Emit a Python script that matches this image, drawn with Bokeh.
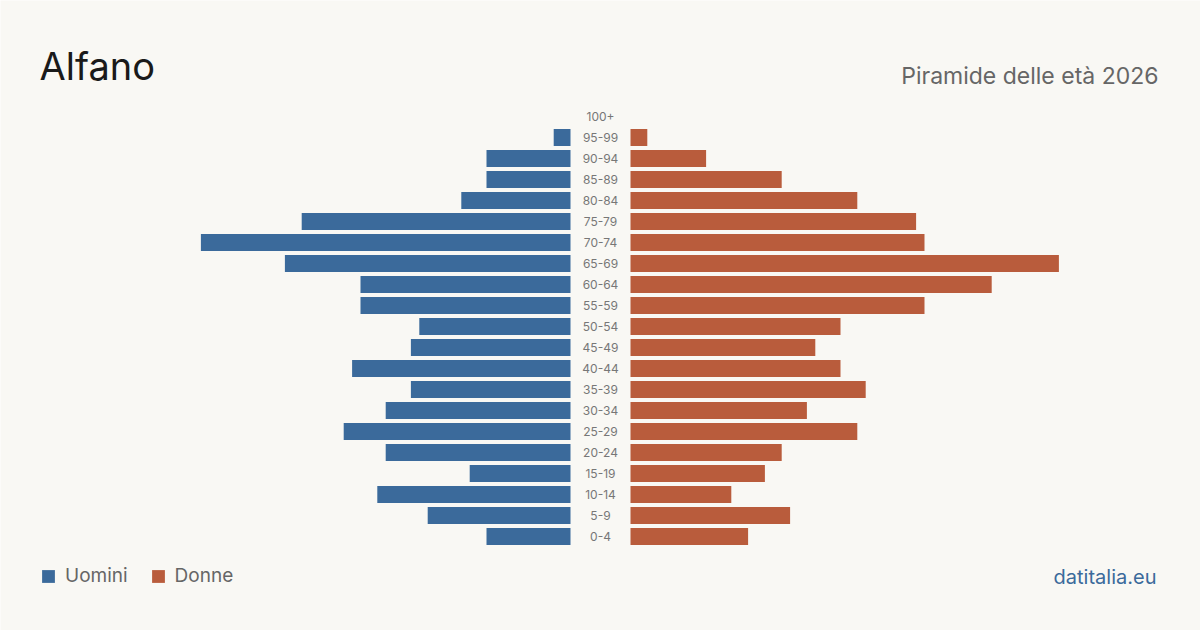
from bokeh.plotting import figure
from bokeh.models import Range1d, Label, Legend, LegendItem, ColumnDataSource
from bokeh.core.properties import value
from bokeh.embed import file_html
from bokeh.resources import INLINE

ages = ["0-4", "5-9", "10-14", "15-19", "20-24", "25-29", "30-34", "35-39", "40-44",
        "45-49", "50-54", "55-59", "60-64", "65-69", "70-74", "75-79", "80-84",
        "85-89", "90-94", "95-99", "100+"]
uomini = [10, 17, 23, 12, 22, 27, 22, 19, 26, 19, 18, 25, 25, 34, 44, 32, 13, 10, 10, 2, 0]
donne = [14, 19, 12, 16, 18, 27, 21, 28, 25, 22, 25, 35, 43, 51, 35, 34, 27, 18, 9, 2, 0]

BG = "#f9f8f4"
BLUE = "#3b6a9b"
ORANGE = "#b95c3c"
FONT = "Inter"

W, H = 1200, 630
PX = 8.4          # pixels per person
GAP = 30 / PX     # half gap in data units
ROW = 21          # pixels per row

idx = list(range(len(ages)))
src = ColumnDataSource(dict(
    y=idx,
    age=ages,
    m_left=[-GAP - v for v in uomini],
    m_right=[-GAP] * len(ages),
    f_left=[GAP] * len(ages),
    f_right=[GAP + v for v in donne],
))

half_w = W / 2 / PX
p = figure(width=W, height=H, output_backend="svg", toolbar_location=None,
           x_range=Range1d(-half_w, half_w),
           y_range=Range1d((536 - 630) / ROW, 536 / ROW),
           min_border=0, outline_line_color=None,
           background_fill_color=BG, border_fill_color=BG)
p.xaxis.visible = False
p.yaxis.visible = False
p.grid.visible = False

r_m = p.hbar(y="y", left="m_left", right="m_right", height=0.8, source=src,
             fill_color=BLUE, line_color=None)
r_f = p.hbar(y="y", left="f_left", right="f_right", height=0.8, source=src,
             fill_color=ORANGE, line_color=None)

p.text(x=0, y="y", text="age", source=src, text_align="center", text_baseline="middle",
       text_font=value(FONT), text_font_size="12px", text_color="#777777")

p.add_layout(Label(x=39, y=H - 65, x_units="screen", y_units="screen", text="Alfano",
                   text_font=FONT, text_font_size="38px", text_color="#1a1a1a",
                   text_baseline="alphabetic"))
p.add_layout(Label(x=1158, y=H - 75, x_units="screen", y_units="screen",
                   text="Piramide delle età 2026", text_align="right",
                   text_font=FONT, text_font_size="23px", text_color="#666666",
                   text_baseline="alphabetic"))
p.add_layout(Label(x=1156, y=H - 576, x_units="screen", y_units="screen",
                   text="datitalia.eu", text_align="right",
                   text_font=FONT, text_font_size="20px", text_color=BLUE,
                   text_baseline="alphabetic"))

legend = Legend(items=[LegendItem(label="Uomini", renderers=[r_m]),
                       LegendItem(label="Donne", renderers=[r_f])],
                orientation="horizontal", location=(40, 43),
                glyph_width=16, glyph_height=16, label_standoff=9, spacing=22,
                padding=0, margin=0, border_line_alpha=0, background_fill_alpha=0,
                label_text_font=FONT, label_text_font_size="19px",
                label_text_color="#666666", label_height=16)
p.add_layout(legend, "center")

open("out.html", "w").write(file_html(p, INLINE))
